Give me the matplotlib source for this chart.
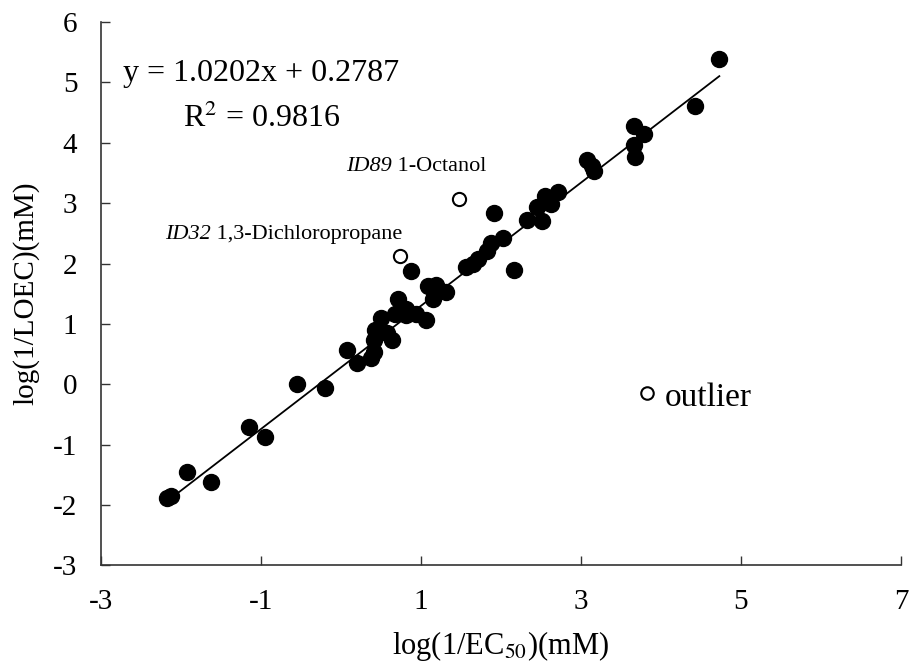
import matplotlib
matplotlib.use("Agg")
import matplotlib.pyplot as plt
import numpy as np

plt.rcParams['font.family'] = ['Liberation Serif', 'DejaVu Serif']
plt.rcParams['mathtext.fontset'] = 'stix'

# filled points: log(1/EC50) vs log(1/LOEC)
x_fit = [-2.17, -2.13, -1.93, -1.62, -1.15, -0.95, -0.55, -0.20, 0.08, 0.20,
         0.37, 0.41, 0.41, 0.43, 0.50, 0.57, 0.64, 0.71, 0.68, 0.81,
         0.81, 0.94, 1.06, 0.88, 1.09, 1.19, 1.15, 1.31, 1.56, 1.65,
         1.71, 1.83, 1.88, 1.91, 2.02, 2.16, 2.33, 2.51, 2.45, 2.55,
         2.63, 2.71, 3.07, 3.14, 3.16, 3.66, 3.79, 3.66, 3.68, 4.43, 4.73]
y_fit = [-1.89, -1.86, -1.46, -1.62, -0.71, -0.87, 0.00, -0.06, 0.57, 0.35,
         0.44, 0.54, 0.73, 0.90, 1.09, 0.85, 0.73, 1.41, 1.16, 1.24,
         1.14, 1.17, 1.07, 1.88, 1.63, 1.64, 1.41, 1.52, 1.94, 2.00,
         2.07, 2.21, 2.34, 2.83, 2.43, 1.90, 2.72, 2.71, 2.94, 3.12,
         2.99, 3.18, 3.72, 3.61, 3.53, 4.27, 4.14, 3.96, 3.77, 4.61, 5.38]

# open points
x_id = [1.48, 0.74]
y_id = [3.07, 2.12]
x_out = [3.82]
y_out = [-0.14]

slope = 1.0202
intercept = 0.2787

fig = plt.figure(figsize=(9.1, 6.69), dpi=100)
ax = fig.add_axes([0.111, 0.155, 0.879, 0.812])

xl = np.array([min(x_fit), max(x_fit)])
ax.plot(xl, slope * xl + intercept, color='black', lw=1.3, zorder=2)
ax.plot(x_fit, y_fit, 'o', color='black', ms=11.5, zorder=3)
ax.plot(x_id, y_id, 'o', mfc='white', mec='black', mew=1.5, ms=9.5, zorder=3)
ax.plot(x_out, y_out, 'o', mfc='white', mec='black', mew=1.5, ms=9, zorder=3)

ax.set_xlim(-3, 7)
ax.set_ylim(-3, 6)
ax.set_xticks([-3, -1, 1, 3, 5, 7])
ax.set_yticks(range(-3, 7))
ax.set_xticklabels(['-3', '-1', '1', '3', '5', '7'])
ax.set_yticklabels([str(v) for v in range(-3, 7)])

for s in ['top', 'right']:
    ax.spines[s].set_visible(False)
for s in ['left', 'bottom']:
    ax.spines[s].set_color('#333333')
    ax.spines[s].set_linewidth(1.2)
ax.tick_params(direction='in', length=6.5, width=1.0, color='#333333',
               labelsize=21, pad=17)

ax.set_xlabel(r'log(1/EC$_{50}$)(mM)', fontsize=22, labelpad=10)
ax.set_ylabel('log(1/LOEC)(mM)', fontsize=21, labelpad=10)

ax.text(-2.72, 5.15, 'y = 1.0202x + 0.2787', fontsize=23, va='center')
ax.text(-1.97, 4.4, r'R$^2$ = 0.9816', fontsize=23, va='center')

t1 = ax.text(0.06, 3.6, 'ID89', fontsize=16, fontstyle='italic', va='center')
ax.annotate(' 1-Octanol', xy=(1, 0), xycoords=t1, fontsize=16, va='bottom')
t2 = ax.text(-2.2, 2.48, 'ID32', fontsize=16, fontstyle='italic', va='center')
ax.annotate(' 1,3-Dichloropropane', xy=(1, 0), xycoords=t2, fontsize=16, va='bottom')

ax.text(4.05, -0.22, 'outlier', fontsize=24, va='center')

fig.savefig('out.png', dpi=100)
